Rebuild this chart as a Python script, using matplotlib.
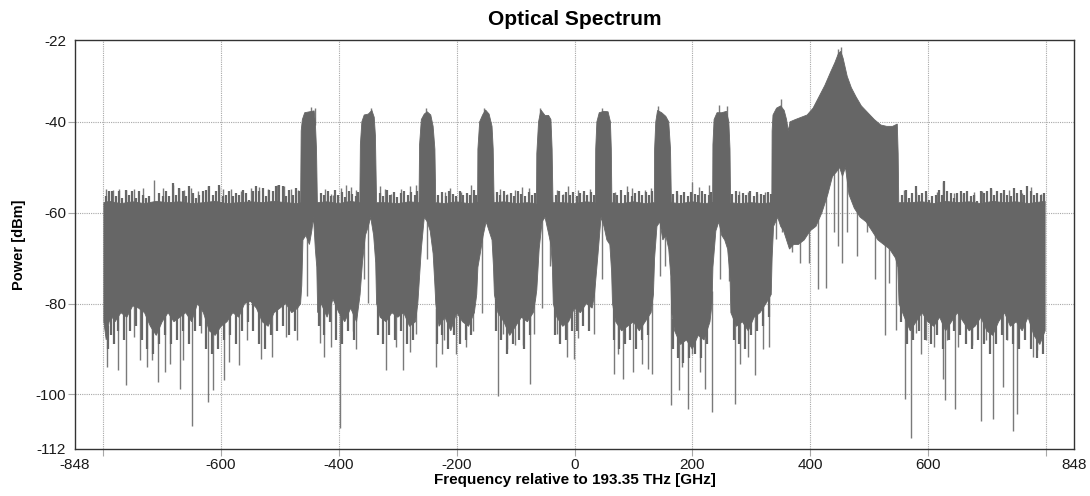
import numpy as np
import matplotlib
matplotlib.use("Agg")
import matplotlib.pyplot as plt

plt.rcParams['font.family'] = ['Liberation Sans', 'DejaVu Sans']
plt.rcParams['axes.unicode_minus'] = False

# ---------------------------------------------------------------------------
# spectrum: (frequency GHz, power dBm)
# upper edge of the dense trace
top_edge = [
    (-799, -57.8), (-790, -57.5), (-770, -58), (-750, -57.6), (-730, -58), (-710, -57.5),
    (-690, -57.8), (-670, -57.6), (-650, -58), (-630, -57.8), (-610, -57.5), (-590, -58),
    (-570, -57.8), (-550, -57.6), (-530, -57.8), (-510, -57.5), (-490, -57.8), (-470, -58),
    (-465, -57.8), (-464, -42), (-462, -39.5), (-458, -38), (-450, -37.8), (-442, -37.6),
    (-440, -40), (-438, -46), (-436.5, -57.8),
    (-420, -57.6), (-400, -58), (-380, -57.5), (-366, -57.8),
    (-364.5, -57.8), (-363.5, -45), (-361, -40), (-357, -38.5), (-350, -38.3), (-344, -37.5),
    (-340, -39), (-338, -43), (-336, -57.8),
    (-320, -57.8), (-300, -58), (-280, -57.6), (-265, -57.8),
    (-264, -57.8), (-263, -45), (-260, -39.5), (-255, -38.3), (-250, -37.8), (-244, -38.5),
    (-240, -41), (-237, -46), (-235.5, -57.8),
    (-220, -58), (-200, -57.6), (-180, -58), (-165, -57.8),
    (-164.5, -57.8), (-164, -46), (-161, -40), (-156, -38.5), (-151, -37.4), (-145, -38.3),
    (-140, -41), (-138, -46), (-136.5, -57.8),
    (-120, -57.6), (-100, -58), (-80, -57.8), (-65, -58),
    (-64.5, -57.8), (-64, -47), (-61, -40), (-57, -37.4), (-50, -38.6), (-44, -38.6),
    (-40, -39.5), (-38, -46), (-36.5, -57.8),
    (-20, -57.8), (0, -58), (20, -57.6), (35, -57.8),
    (35.5, -57.8), (36, -46), (38, -40), (42, -38), (50, -37.7), (57, -37.8),
    (61, -40), (62.5, -46), (63.5, -57.8),
    (80, -58), (100, -57.6), (120, -58), (135, -57.8),
    (135.5, -57.8), (136, -46), (138, -40), (141, -37.5), (148, -38), (155, -38.8),
    (160, -40), (163, -46), (164.5, -57.8),
    (180, -58), (200, -57.6), (220, -58), (234, -57.8),
    (234.5, -57.8), (235, -45), (237, -39.5), (242, -38), (250, -38), (258, -37.7),
    (262, -40), (264, -46), (265, -57.8),
    (280, -58), (300, -57.8), (320, -58), (335, -57.8),
    (335.5, -42), (337, -38.5), (343, -37), (350, -36.5), (356, -37.5), (360, -39.5),
    (363, -42), (366, -40), (375, -39.5), (385, -39), (395, -38.5), (405, -37),
    (415, -34.5), (425, -32), (435, -29), (442, -27), (448, -25), (452, -24.5),
    (456, -26), (463, -30), (470, -32.5), (478, -34.5), (487, -36.5), (498, -38),
    (509, -39.5), (520, -40.7), (530, -41), (540, -41), (548, -40.5), (549.5, -47),
    (550.5, -57.8),
    (570, -57.8), (590, -57.6), (610, -58), (630, -57.5), (650, -57.8), (670, -57.6),
    (690, -58), (710, -57.5), (730, -57.8), (750, -57.6), (770, -58), (799, -57.5),
]

# lower edge of the dense trace
bottom_edge = [
    (-799, -84), (-795, -88), (-790, -84), (-785, -83), (-780, -84), (-770, -82),
    (-760, -83), (-750, -80.5), (-740, -81), (-730, -82), (-720, -85), (-710, -87),
    (-700, -84), (-690, -82), (-680, -84), (-670, -83), (-660, -82), (-650, -84),
    (-640, -80), (-630, -82), (-620, -86), (-610, -87), (-600, -85), (-590, -84),
    (-580, -82), (-570, -83), (-560, -80), (-550, -79.5), (-540, -81), (-530, -84),
    (-520, -85), (-510, -82), (-500, -81), (-490, -80), (-480, -82), (-470, -81),
    (-465, -80), (-463, -76), (-461, -66), (-456, -65), (-450, -67), (-446, -64),
    (-443, -61), (-440, -68), (-437.5, -72), (-436, -82),
    (-430, -80), (-420, -83), (-410, -79), (-400, -82), (-390, -84), (-380, -81),
    (-370, -84), (-366, -80),
    (-364, -78), (-360, -71), (-355, -65), (-350, -63), (-346, -61), (-341, -65),
    (-337.5, -71), (-336, -80),
    (-330, -83), (-320, -84), (-310, -82), (-300, -83), (-290, -82), (-280, -85),
    (-270, -84), (-266, -80),
    (-264, -76), (-260, -68), (-255, -61), (-250, -62), (-245, -64), (-240, -69),
    (-237, -76), (-235.5, -80),
    (-230, -85), (-220, -83), (-210, -86), (-200, -82), (-190, -84), (-180, -85),
    (-170, -82), (-166, -78),
    (-164, -72), (-160, -69), (-155, -65), (-150, -62), (-145, -64), (-140, -66),
    (-137.5, -72), (-136, -78),
    (-130, -82), (-120, -84), (-110, -87), (-100, -85), (-90, -83), (-80, -84),
    (-70, -82), (-66, -79),
    (-64, -77), (-60, -68), (-55, -62), (-50, -61), (-45, -64), (-40, -67),
    (-37.5, -72), (-36, -80),
    (-30, -83), (-20, -85), (-10, -84), (0, -81), (10, -82), (20, -80), (30, -81),
    (34, -78),
    (36, -75), (40, -69), (45, -61), (50, -63), (55, -66), (60, -67), (63, -73),
    (64.5, -80),
    (70, -84), (80, -86), (90, -85), (100, -84), (110, -86), (120, -84), (130, -82),
    (134, -78),
    (136, -70), (140, -63), (145, -62), (150, -66), (155, -65), (160, -68),
    (163.5, -74), (165, -82),
    (170, -86), (180, -89), (190, -88), (200, -90), (210, -87), (220, -88),
    (230, -84), (233.5, -80),
    (235, -72), (240, -64), (245, -62), (250, -65), (255, -66), (260, -68),
    (264, -74), (265.5, -82),
    (275, -85), (285, -84), (295, -86), (305, -83), (315, -82), (325, -80), (334, -78),
    (335.5, -70), (338, -63), (345, -61), (350, -63), (355, -64), (360, -66),
    (365, -68), (372, -67), (380, -67), (390, -66), (400, -64), (410, -63),
    (420, -60), (430, -56), (438, -52), (445, -51), (450, -50), (455, -52),
    (460, -50), (466, -56), (475, -59), (485, -61), (495, -62), (505, -64),
    (515, -66), (525, -67), (535, -68), (545, -70), (549, -72),
    (551, -80), (560, -83), (570, -86), (580, -84), (590, -82), (600, -84),
    (610, -85), (620, -83), (630, -86), (640, -84), (650, -82), (660, -84),
    (670, -86), (680, -85), (690, -83), (700, -86), (710, -87), (720, -84),
    (730, -82), (740, -85), (750, -84), (760, -86), (770, -83), (780, -87),
    (790, -89), (799, -86),
]

# single samples poking above the trace
up_spikes = [
    (-795.6, -54.7), (-784.3, -55.0), (-773, -54.7), (-761.6, -55.0), (-747.4, -54.8),
    (-733.3, -54.5), (-713.4, -52.7), (-699.3, -54.5), (-682.3, -53.8), (-670.9, -54.5),
    (-662.4, -55.0), (-651.1, -54.5), (-639.7, -55.3), (-622.7, -54.1), (-602.9, -54.3),
    (-597.2, -54.7), (-583, -54.8), (-566, -55.3), (-549, -54.5), (-534.9, -54.3),
    (-520.7, -54.8), (-504.8, -53.9), (-493.5, -54.1), (-481, -54.7), (-469.7, -55.0),
    (-424.3, -54.7), (-413, -55.8), (-410.1, -56.1), (-396, -54.5), (-387.5, -53.8),
    (-379, -54.3), (-370.5, -55.0), (-330.8, -54.1), (-322.3, -54.7), (-310.9, -55.8),
    (-293.9, -54.7), (-279.8, -54.1), (-269.6, -53.8), (-220.2, -55.4), (-210.6, -54.5),
    (-191.9, -55.4), (-174.9, -53.8), (-126.7, -54.7), (-115.3, -55.8), (-101.2, -55.0),
    (-89.8, -54.3), (-76.8, -54.5), (-30.3, -55.0), (-19, -55.8), (-10.5, -54.1),
    (6.5, -55.0), (15, -55.8), (26.4, -54.7), (68.9, -55.4), (88.7, -54.1),
    (97.2, -54.5), (119.9, -55.0), (130.1, -54.5), (173.8, -55.8), (199.3, -53.3),
    (210.6, -54.3), (227.6, -53.8), (278.6, -55.3), (294.5, -55.4), (309.8, -55.8),
    (324, -55.4), (559.2, -55.0), (579.1, -55.4), (596.1, -55.8), (615.9, -55.4),
    (626.1, -53.2), (644.3, -55.6), (655.6, -55.8), (678.3, -55.4), (692.5, -55.2),
    (706.6, -54.8), (723.6, -55.6), (737.8, -55.0), (760.5, -55.6), (774.7, -54.3),
    (791.7, -55.8),
    (-448, -36.8), (-441, -37.0), (-346, -36.9), (-252, -37.0), (-153, -36.9),
    (-58, -36.9), (47, -37.0), (141, -36.5), (245, -36.3), (259, -36.5),
    (350, -35.0), (448, -24.0), (452, -23.5),
]

# the short, dense "grass" on top of the noise floor
grass = [
    (-795.6, -56.4), (-790, -55.3), (-784.4, -55.3), (-778.7, -56.4), (-773, -55.3),
    (-767.4, -56.8), (-761.7, -55.0), (-756, -56.1), (-750.4, -55.3), (-744.7, -56.8),
    (-739, -55.3), (-733.4, -56.1), (-727.7, -56.8), (-722, -56.4), (-705, -55.7),
    (-699.3, -56.4), (-693.7, -55.3), (-688, -56.4), (-682.3, -53.5), (-676.6, -56.1),
    (-671, -54.6), (-665.3, -55.3), (-659.6, -56.4), (-654, -54.2), (-648.3, -55.7),
    (-642.6, -56.8), (-637, -56.1), (-631.3, -55.3), (-625.6, -55.0), (-620, -54.2),
    (-614.3, -56.1), (-608.6, -55.3), (-603, -53.9), (-597.3, -56.4), (-591.6, -56.1),
    (-586, -55.3), (-580.3, -56.4), (-574.6, -55.7), (-569, -56.1), (-563.3, -55.0),
    (-557.6, -55.7), (-552, -57.2), (-546.3, -55.3), (-540.6, -54.2), (-535, -55.3),
    (-529.3, -54.6), (-523.6, -56.4), (-518, -55.0), (-512.3, -55.3), (-506.6, -54.2),
    (-501, -53.9), (-495.3, -54.2), (-489.6, -56.4), (-484, -55.0), (-478.3, -56.1),
    (-472.6, -54.6), (-467, -55.3),
    (-431, -55.6), (-425, -56.2), (-419, -55.2), (-413, -56.4), (-407, -55.0),
    (-401, -56.0), (-395, -55.5), (-389, -56.6), (-383, -55.3), (-377, -55.9),
    (-371, -56.3), (-367, -55.4),
    (-331, -55.7), (-325, -56.3), (-319, -55.1), (-313, -56.0), (-307, -55.4),
    (-301, -56.5), (-295, -55.6), (-289, -55.2), (-283, -56.1), (-277, -55.5),
    (-271, -56.0), (-267, -55.3),
    (-231, -56.0), (-225, -55.4), (-219, -56.3), (-213, -55.2), (-207, -55.8),
    (-201, -56.4), (-195, -55.3), (-189, -56.0), (-183, -55.6), (-177, -56.2),
    (-171, -55.1), (-167, -56.0),
    (-132, -55.5), (-126, -56.2), (-120, -55.3), (-114, -56.0), (-108, -55.6),
    (-102, -56.4), (-96, -55.2), (-90, -55.9), (-84, -56.3), (-78, -55.4),
    (-72, -56.0), (-67, -55.6),
    (-32, -56.0), (-26, -55.3), (-20, -56.2), (-14, -55.5), (-8, -56.1),
    (-2, -55.4), (4, -56.3), (10, -55.6), (16, -55.2), (22, -56.0),
    (28, -55.5), (33, -56.2),
    (67, -55.6), (73, -56.2), (79, -55.1), (85, -56.0), (91, -55.4),
    (97, -56.3), (103, -55.7), (109, -55.2), (115, -56.1), (121, -55.5),
    (127, -56.2), (132, -55.3),
    (168, -55.8), (174, -55.2), (180, -56.1), (186, -55.5), (192, -56.3),
    (198, -55.4), (204, -55.9), (210, -56.2), (216, -55.3), (222, -55.8),
    (228, -56.0), (232, -55.4),
    (268, -55.9), (274, -55.3), (280, -56.2), (286, -55.6), (292, -56.0),
    (298, -55.2), (304, -56.3), (310, -55.5), (316, -55.9), (322, -56.1),
    (328, -55.4), (333, -55.8),
    (556.4, -56.1), (562, -55.0), (567.7, -56.8), (573.4, -55.7), (579, -54.2),
    (584.7, -56.1), (590.4, -55.7), (596, -55.3), (601.7, -57.2), (607.4, -56.4),
    (613, -56.1), (618.7, -55.0), (624.4, -56.1), (627.2, -53.1), (632.8, -55.3),
    (638.5, -55.7), (644.2, -56.8), (649.8, -55.7), (655.5, -55.3), (661.2, -55.7),
    (666.8, -55.3), (672.5, -56.4), (678.2, -56.1), (683.8, -57.5), (689.5, -55.3),
    (695.2, -55.7), (700.8, -55.3), (706.5, -54.6), (712.2, -56.1), (717.8, -55.3),
    (723.5, -55.7), (729.2, -55.0), (734.8, -56.1), (740.5, -56.4), (746.2, -54.6),
    (751.8, -55.7), (757.5, -55.0), (763.2, -56.1), (768.8, -54.2), (774.5, -55.3),
    (780.2, -56.1), (785.8, -55.7), (791.5, -56.1), (797.2, -55.7),
]

# short samples fringing the lower edge of the noise floor
fringe = [
    (-792.5, -90), (-787.5, -87), (-782.5, -89), (-775, -86), (-765, -88), (-755, -86),
    (-745, -85), (-735, -88), (-725, -90), (-715, -91), (-705, -89), (-695, -87),
    (-685, -89), (-675, -88), (-665, -86), (-655, -89), (-645, -86), (-635, -85),
    (-625, -90), (-615, -91), (-605, -90), (-595, -88), (-585, -87), (-575, -89),
    (-565, -86), (-555, -84), (-545, -86), (-535, -89), (-525, -90), (-515, -87),
    (-505, -86), (-495, -85), (-485, -87), (-475, -86),
    (-433, -85), (-425, -87), (-415, -84), (-405, -88), (-395, -89), (-385, -86), (-375, -88),
    (-333, -87), (-325, -89), (-315, -87), (-305, -88), (-295, -86), (-285, -89), (-275, -88),
    (-233, -89), (-225, -87), (-215, -90), (-205, -87), (-195, -89), (-185, -88), (-175, -87),
    (-133, -86), (-125, -88), (-115, -91), (-105, -89), (-95, -88), (-85, -90), (-75, -87),
    (-33, -87), (-25, -89), (-15, -88), (-5, -86), (5, -86), (15, -85), (25, -86),
    (67, -88), (75, -90), (85, -89), (95, -88), (105, -90), (115, -88), (125, -87),
    (168, -90), (175, -92), (185, -93), (195, -92), (205, -91), (215, -92), (225, -89),
    (270, -88), (280, -89), (290, -90), (300, -87), (310, -86), (320, -85), (330, -83),
    (555, -84), (565, -89), (575, -88), (585, -86), (595, -88), (605, -89), (615, -87),
    (625, -90), (635, -88), (645, -86), (655, -87), (665, -89), (675, -90), (685, -88),
    (695, -89), (705, -91), (715, -89), (725, -87), (735, -88), (745, -89), (755, -90),
    (765, -88), (775, -90), (785, -92), (795, -91),
]

# single samples dropping well below the trace
down_spikes = [
    (-794.5, -93.9), (-775.8, -94.7), (-761.6, -98.0), (-747.4, -87.3), (-737.2, -92.4),
    (-725.9, -93.9), (-718, -92.4), (-707.8, -97.3), (-695.3, -95.0), (-686.2, -93.2),
    (-669.2, -98.7), (-664.7, -92.4), (-650, -106.9), (-634, -86.5), (-622.7, -101.7),
    (-614.2, -99.1), (-595.5, -96.9), (-585.9, -92.8), (-568.9, -93.6), (-555.8, -88.0),
    (-532, -92.1), (-513.3, -91.7), (-489.5, -87.3), (-470.8, -88.0), (-454.4, -78.4),
    (-432.3, -88.7), (-425.5, -91.7), (-413, -89.5), (-397.7, -107.3), (-376.1, -86.0),
    (-371.6, -89.9), (-357.4, -74.7), (-351, -79.9), (-320.6, -94.7), (-303.6, -89.5),
    (-291.1, -94.7), (-278.6, -90.6), (-269.6, -86.7), (-249.7, -70.2), (-234.4, -93.9),
    (-224.8, -91.0), (-222, -88.0), (-200.4, -91.0), (-183.4, -89.5), (-172, -86.0),
    (-156.2, -82.1), (-130.7, -100.4), (-121, -86.7), (-115.4, -89.9), (-101.2, -89.1),
    (-87, -89.1), (-75.1, -97.6), (-68.9, -86.7), (-55.8, -81.0), (-41.7, -71.7),
    (-29.2, -86.7), (-13.3, -91.7), (-0.3, -92.1), (6.5, -87.6), (33.7, -86.7),
    (46.2, -74.7), (67.7, -95.4), (74.5, -91.0), (83, -96.5), (100, -95.0),
    (115.4, -93.2), (124.4, -94.3), (132.4, -95.4), (145.4, -73.9), (153.9, -71.7),
    (164.1, -102.4), (177.7, -99.1), (182.3, -93.9), (191.9, -103.2), (199.3, -91.0),
    (213.4, -95.0), (221.9, -98.7), (233.3, -103.9), (247.4, -74.7), (261.6, -75.0),
    (273, -102.1), (281.5, -93.2), (294.5, -91.7), (307, -95.8), (319.4, -90.1),
    (329.6, -89.5), (342.7, -65.8), (352.3, -64.3), (369.3, -68.7), (383.5, -71.0),
    (397.7, -71.0), (413.5, -76.9), (427.7, -76.5), (440.2, -64.3), (447, -67.3),
    (454.4, -71.0), (462.9, -64.3), (479.9, -69.5), (496.9, -64.3), (511, -74.7),
    (526.4, -86.9), (533.7, -75.4), (546.2, -85.8), (560.4, -101.0), (571.7, -109.5),
    (579.1, -86.5), (587.6, -91.0), (596.1, -88.0), (610.3, -89.5), (626.1, -96.5),
    (628.4, -101.3), (633, -88.0), (645.4, -103.2), (651.1, -89.5), (675.5, -89.1),
    (690.8, -105.8), (698.2, -88.0), (711.2, -105.4), (727, -98.4), (735, -88.0),
    (744.6, -108.0), (750.9, -104.3), (778.6, -91.7), (786, -90.2),
]

x_grid = [-800, -600, -400, -200, 0, 200, 400, 600, 800]
x_grid_labels = ["", "-600", "-400", "-200", "0", "200", "400", "600", ""]
x_edges = [-848, 848]
y_grid = [-100, -80, -60, -40]
y_edges = [-112, -22]

# ---------------------------------------------------------------------------
top_f, top_p = np.array(top_edge).T
bot_f, bot_p = np.array(bottom_edge).T
up_f, up_p = np.array(up_spikes).T
gr_f, gr_p = np.array(grass).T
fr_f, fr_p = np.array(fringe).T
dn_f, dn_p = np.array(down_spikes).T

trace_col = "#666666"
spike_col = "#7a7a7a"
grid_col = "#a8a8a8"
text_col = "#1a1a1a"

fig = plt.figure(figsize=(10.9, 4.96), dpi=100)
ax = fig.add_axes([75 / 1090, 1 - 449 / 496, 999 / 1090, 409 / 496])

ax.fill(np.concatenate([top_f, bot_f[::-1]]), np.concatenate([top_p, bot_p[::-1]]),
        color=trace_col, lw=0.6, zorder=2)
ax.vlines(gr_f, np.interp(gr_f, top_f, top_p) - 1, gr_p, color=trace_col, lw=1.6, zorder=1.8)
ax.vlines(fr_f, np.interp(fr_f, bot_f, bot_p) + 1, fr_p, color=trace_col, lw=1.6, zorder=1.8)
ax.vlines(dn_f, np.interp(dn_f, bot_f, bot_p) + 3, dn_p, color=spike_col, lw=1.0, zorder=1.5)
ax.vlines(up_f, np.interp(up_f, top_f, top_p) - 2, up_p, color=spike_col, lw=1.0, zorder=1.5)

ax.set_xlim(-848, 848)
ax.set_ylim(-112, -22)

ax.set_xticks(x_grid)
ax.set_xticklabels(x_grid_labels)
ax.set_xticks(x_edges, minor=True)
ax.set_xticklabels([str(v) for v in x_edges], minor=True)
ax.set_yticks(y_grid)
ax.set_yticklabels([str(v) for v in y_grid])
ax.set_yticks(y_edges, minor=True)
ax.set_yticklabels([str(v) for v in y_edges], minor=True)

ax.tick_params(which="major", length=5, width=0.8, color=grid_col, pad=1.5,
               labelsize=11, labelcolor=text_col)
ax.tick_params(which="minor", length=0, pad=6.5, labelsize=11, labelcolor=text_col)

ax.grid(which="major", color=grid_col, linestyle=(0, (1, 1)), linewidth=0.8)
ax.set_axisbelow(True)
for s in ax.spines.values():
    s.set_color("#333333")
    s.set_linewidth(1.0)

ax.set_title("Optical Spectrum", fontsize=15, fontweight="bold", pad=11)
ax.set_xlabel("Frequency relative to 193.35 THz [GHz]", fontsize=11, fontweight="bold", labelpad=1)
ax.set_ylabel("Power [dBm]", fontsize=10.5, fontweight="bold", labelpad=7)

fig.savefig("out.png", dpi=100)
